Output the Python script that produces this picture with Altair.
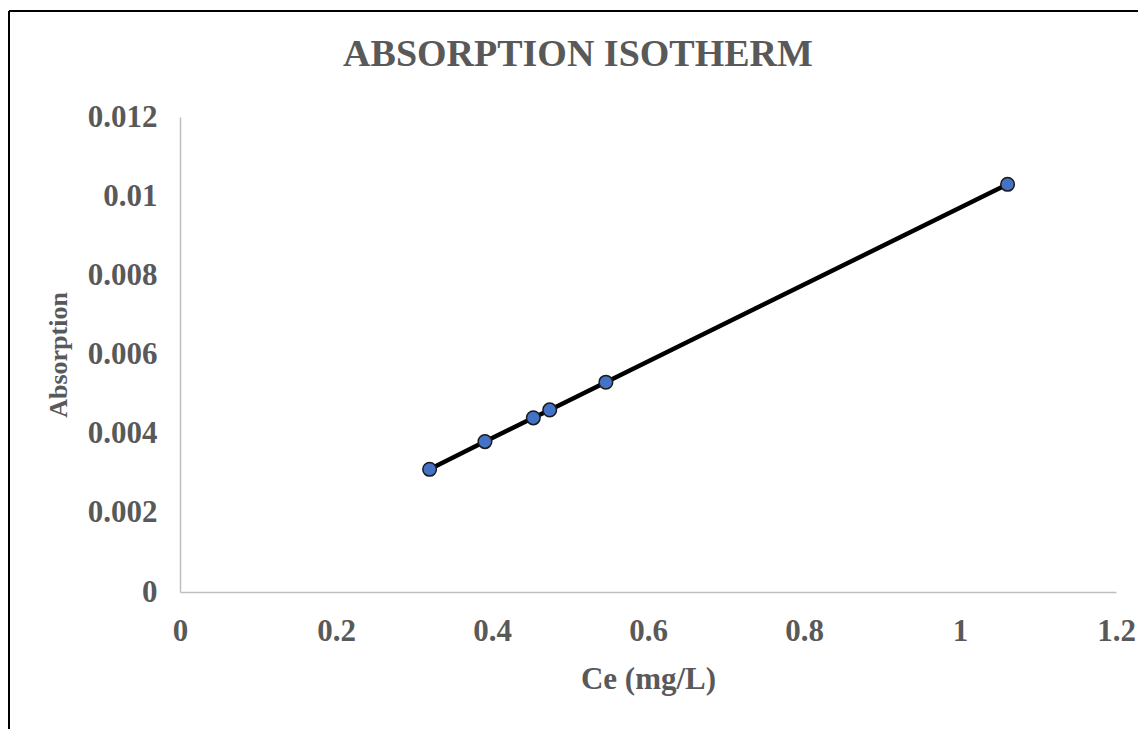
import altair as alt
import pandas as pd

ce = [0.32, 0.391, 0.453, 0.474, 0.546, 1.061]
absorption = [0.0031, 0.0038, 0.0044, 0.0046, 0.0053, 0.0103]
x_ticks = [0, 0.2, 0.4, 0.6, 0.8, 1, 1.2]
y_ticks = [0, 0.002, 0.004, 0.006, 0.008, 0.01, 0.012]

df = pd.DataFrame({"Ce": ce, "Absorption": absorption})

FONT = "Liberation Serif"
GREY = "#595959"

xenc = alt.X(
    "Ce:Q",
    scale=alt.Scale(domain=[0, 1.2], nice=False, zero=True),
    axis=alt.Axis(
        values=x_ticks, title="Ce (mg/L)", grid=False, ticks=False,
        domainColor="#BFBFBF", domainWidth=1.5, labelPadding=24,
        labelFontSize=31, labelFont=FONT, labelFontWeight="bold", labelColor=GREY,
        titleFontSize=31, titleFont=FONT, titleFontWeight="bold", titleColor=GREY,
        titlePadding=18, labelFlush=False, labelExpr="format(datum.value, '')",
    ),
)
yenc = alt.Y(
    "Absorption:Q",
    scale=alt.Scale(domain=[0, 0.012], nice=False),
    axis=alt.Axis(
        values=y_ticks, title="Absorption", grid=False, ticks=False,
        domainColor="#BFBFBF", domainWidth=1.5, labelPadding=23,
        labelFontSize=31, labelFont=FONT, labelFontWeight="bold", labelColor=GREY,
        titleFontSize=26, titleFont=FONT, titleFontWeight="bold", titleColor=GREY,
        titlePadding=16, labelFlush=False, labelExpr="format(datum.value, '')",
    ),
)

line = alt.Chart(df).mark_line(color="black", strokeWidth=4.5).encode(x=xenc, y=yenc, order="Ce:Q")
points = alt.Chart(df).mark_point(
    filled=True, fill="#4472C4", stroke="#1a1a1a", strokeWidth=1.5, size=185, opacity=1
).encode(x="Ce:Q", y="Absorption:Q")

frame_data = alt.Data(values=[{"k": 1}])
left_edge = alt.Chart(frame_data).mark_rule(color="black", strokeWidth=2).encode(
    x=alt.value(-171), y=alt.value(-106), y2=alt.value(800)
)
top_edge = alt.Chart(frame_data).mark_rule(color="black", strokeWidth=2).encode(
    x=alt.value(-171), x2=alt.value(1200), y=alt.value(-106)
)

chart = alt.layer(left_edge, top_edge, line, points).properties(
    width=936,
    height=475,
    title=alt.TitleParams(
        "ABSORPTION ISOTHERM", font=FONT, fontSize=38, fontWeight="bold",
        color=GREY, anchor="middle", dx=-70, offset=-64,
    ),
    autosize=alt.AutoSizeParams(type="none"),
    padding={"left": 180, "top": 117, "right": 22, "bottom": 137},
).configure(background="white").configure_view(stroke=None, strokeWidth=0)

chart.save("out.html", embed_options={"renderer": "svg", "actions": False})
